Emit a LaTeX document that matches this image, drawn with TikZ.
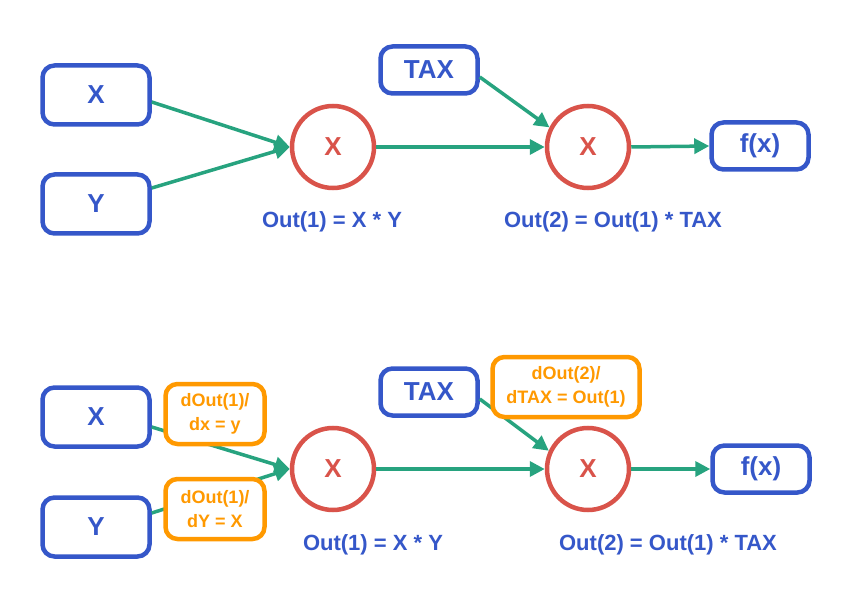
\documentclass[tikz,border=0pt]{standalone}
\usepackage{fontspec}
\setmainfont{Liberation Sans}
\usetikzlibrary{arrows.meta}
\definecolor{boxblue}{HTML}{3557C9}
\definecolor{nodered}{HTML}{D9534A}
\definecolor{edgegreen}{HTML}{27A37F}
\definecolor{gradorange}{HTML}{FF9900}

\begin{document}
\begin{tikzpicture}[x=1pt,y=-1pt]
\tikzstyle{var}=[draw=boxblue,line width=4.5pt,rounded corners=12pt,fill=white,text=boxblue,font=\fontsize{26}{30}\selectfont\bfseries,minimum width=107pt,minimum height=59pt,inner sep=0pt]
\tikzstyle{small}=[var,minimum width=97pt,minimum height=47pt]
\tikzstyle{op}=[circle,draw=nodered,line width=4.5pt,fill=white,text=nodered,font=\fontsize{26}{30}\selectfont\bfseries,minimum size=82pt,inner sep=0pt]
\tikzstyle{edge}=[draw=edgegreen,line width=3.5pt,-{Triangle[length=15pt,width=15pt]}]
\tikzstyle{formula}=[text=boxblue,font=\fontsize{22}{26}\selectfont\bfseries,inner sep=0pt]
\tikzstyle{grad}=[draw=gradorange,line width=4.5pt,rounded corners=12pt,fill=white,text=gradorange,font=\fontsize{18}{24}\selectfont\bfseries,align=center,minimum width=99pt,minimum height=60pt,inner sep=2pt]

\useasboundingbox (0,0) rectangle (846,596);

% forward pass
\node[var] (x1) at (96,95) {X};
\node[var] (y1) at (96,204) {Y};
\node[small] (tax1) at (429,70) {TAX};
\node[small] (fx1) at (760,146) {f(x)};
\node[op] (mul1) at (333,147) {X};
\node[op] (mul2) at (588,147) {X};
\node[formula] (out1) at (332,222) {Out(1) = X * Y};
\node[formula] (out2) at (613,222) {Out(2) = Out(1) * TAX};

\draw[edge] ([yshift=-7pt]x1.east) -- (mul1.west);
\draw[edge] ([yshift=16pt]y1.east) -- (mul1.west);
\draw[edge] (mul1.east) -- (mul2.west);
\draw[edge] ([yshift=-7pt]tax1.east) -- (mul2.153);
\draw[edge] (mul2.east) -- (fx1.west);

% backward pass
\node[var] (x2) at (96,417) {X};
\node[var] (y2) at (96,527) {Y};
\node[small] (tax2) at (429,392) {TAX};
\node[small] (fx2) at (761,469) {f(x)};
\node[op] (mul3) at (333,469) {X};
\node[op] (mul4) at (588,469) {X};
\node[formula] (out3) at (373,545) {Out(1) = X * Y};
\node[formula] (out4) at (668,545) {Out(2) = Out(1) * TAX};

\draw[edge] ([yshift=-10pt]x2.east) -- (mul3.west);
\draw[edge] ([yshift=14pt]y2.east) -- (mul3.west);
\draw[edge] (mul3.east) -- (mul4.west);
\draw[edge] ([yshift=-7pt]tax2.east) -- (mul4.155);
\draw[edge] (mul4.east) -- (fx2.west);

\node[grad] (dx) at (215,414) {dOut(1)/\\dx = y};
\node[grad] (dy) at (215,509) {dOut(1)/\\dY = X};
\node[grad,minimum width=147pt] (dtax) at (566,387) {dOut(2)/\\dTAX = Out(1)};

\end{tikzpicture}
\end{document}
